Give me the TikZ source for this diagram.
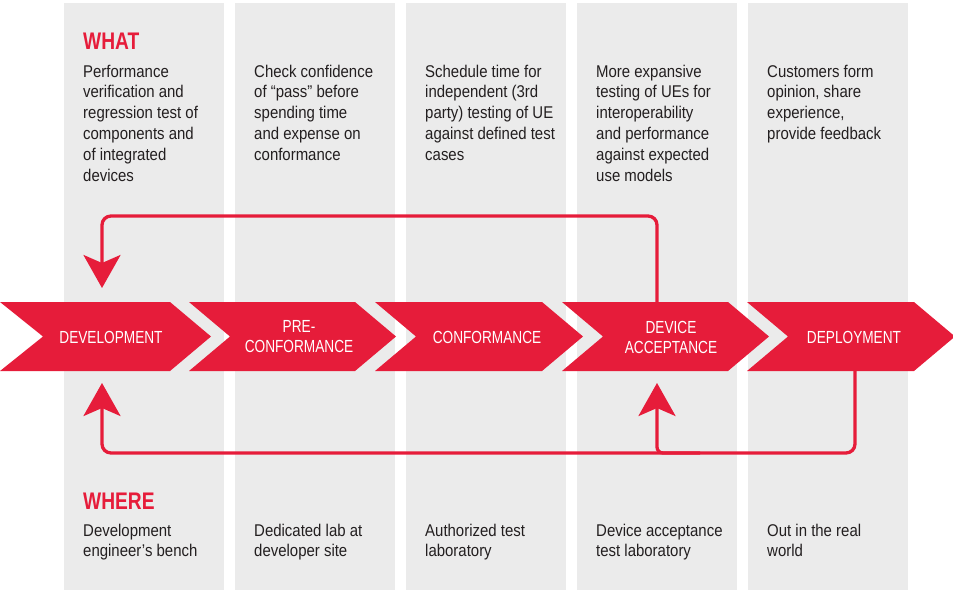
\documentclass[tikz,border=0pt]{standalone}
\usepackage{fontspec}
\usetikzlibrary{arrows.meta}
\newfontfamily\bodyf{Liberation Sans}[FakeStretch=0.88]
\newfontfamily\chevf{Liberation Sans}[FakeStretch=0.78]
\newfontfamily\headf{Liberation Sans}[FakeStretch=0.8]
\definecolor{cred}{HTML}{E61C3A}
\definecolor{cgrey}{HTML}{EBEBEB}
\definecolor{ctext}{HTML}{231F20}
\newcommand{\coltext}[1]{\parbox[t]{160pt}{\bodyf\fontsize{17}{20.8}\selectfont\raggedright\leavevmode#1}}
\tikzset{
  colbox/.style={fill=cgrey, draw=none},
  chevbox/.style={fill=cred, draw=none},
  bodytxt/.style={anchor=base west, inner sep=0pt, text=ctext},
  headtxt/.style={anchor=base west, inner sep=0pt, text=cred, font=\headf\bfseries\fontsize{24}{26}\selectfont},
  chevlabel/.style={anchor=center, inner sep=0pt, text=white, align=center, font=\chevf\fontsize{17.5}{20}\selectfont},
  loopline/.style={draw=cred, line width=3.3pt, rounded corners=9pt},
  looparrow/.style={-{Stealth[length=33pt,width=37pt,inset=8pt]}}
}
\begin{document}
\begin{tikzpicture}[x=1pt,y=-1pt]
\useasboundingbox (0,0) rectangle (953,590);
\clip (0,0) rectangle (953,590);
% grey columns
\foreach \cx in {64,235,406,577,748}{
  \fill[colbox] (\cx,3) rectangle (\cx+160,590);
}
% chevrons
\fill[chevbox] (0,302) -- (170,302) -- (211,336.5) -- (170,371) -- (0,371) -- (43,336.5) -- cycle;
\foreach \a/\b in {189/355,375/542,562/728,747/914}{
  \fill[chevbox] (\a,302) -- (\b,302) -- (\b+41,336.5) -- (\b,371) -- (\a,371) -- (\a+41,336.5) -- cycle;
}
\node[chevlabel] (dev) at (111,337) {DEVELOPMENT};
\node[chevlabel] (pre) at (299,337) {PRE-\\CONFORMANCE};
\node[chevlabel] (conf) at (487,337) {CONFORMANCE};
\node[chevlabel] (acc) at (671,337) {DEVICE\\ACCEPTANCE};
\node[chevlabel] (dep) at (854,337) {DEPLOYMENT};
% headings
\node[headtxt] (what) at (83,49) {WHAT};
\node[headtxt] (where) at (83,509) {WHERE};
% what texts
\node[bodytxt] (w1) at (83,77) {\coltext{Performance\\verification and\\regression test of\\components and\\of integrated\\devices}};
\node[bodytxt] (w2) at (254,77) {\coltext{Check confidence\\of “pass” before\\spending time\\and expense on\\conformance}};
\node[bodytxt] (w3) at (425,77) {\coltext{Schedule time for\\independent (3rd\\party) testing of UE\\against defined test\\cases}};
\node[bodytxt] (w4) at (596,77) {\coltext{More expansive\\testing of UEs for\\interoperability\\and performance\\against expected\\use models}};
\node[bodytxt] (w5) at (767,77) {\coltext{Customers form\\opinion, share\\experience,\\provide feedback}};
% where texts
\node[bodytxt] (h1) at (83,536) {\coltext{Development\\engineer’s bench}};
\node[bodytxt] (h2) at (254,536) {\coltext{Dedicated lab at\\developer site}};
\node[bodytxt] (h3) at (425,536) {\coltext{Authorized test\\laboratory}};
\node[bodytxt] (h4) at (596,536) {\coltext{Device acceptance\\test laboratory}};
\node[bodytxt] (h5) at (767,536) {\coltext{Out in the real\\world}};
% connector coordinates
\coordinate (accT) at (657,303);
\coordinate (depB) at (855,370);
\coordinate (devTopTip) at (102,288);
\coordinate (devBotTip) at (102,383);
\coordinate (accBotTip) at (657,383);
% loops
\draw[loopline, looparrow] (accT) -- (657,216) -- (102,216) -- (devTopTip);
\draw[loopline, looparrow] (depB) -- (855,453) -- (102,453) -- (devBotTip);
\draw[loopline, looparrow, rounded corners=6pt] (700,453) -- (657,453) -- (accBotTip);
\end{tikzpicture}
\end{document}
